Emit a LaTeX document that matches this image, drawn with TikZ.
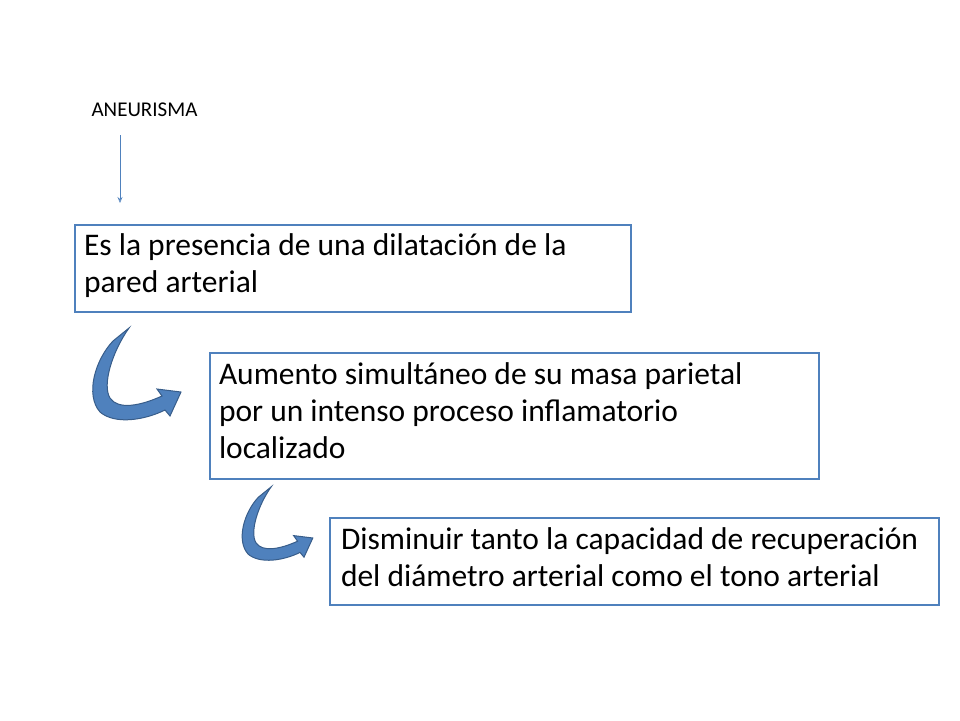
\documentclass[tikz,border=0pt]{standalone}
\usepackage{fontspec}
\setmainfont{Carlito}
\usetikzlibrary{arrows.meta}
\begin{document}
\begin{tikzpicture}[x=1pt,y=-1pt]
\definecolor{bl}{HTML}{4F81BD}
\definecolor{bld}{HTML}{385D8A}
\tikzset{
 txtbox/.style={draw=bl,line width=2pt,anchor=north west,align=left,inner sep=0pt,font=\fontsize{31.5}{37}\selectfont,text depth=0pt},
 curvy/.pic={\fill[bl,draw=bld,line width=1pt] (23,14) .. controls (5,33) and (-5,68) .. (10,85) .. controls (25,98) and (55,93) .. (75,83) -- (80,89) -- (91,65) -- (67,62) -- (72,69) .. controls (50,79) and (28,83) .. (20,71) .. controls (12,58) and (22,25) .. (39,1) -- cycle;}
}
\path[use as bounding box] (0,0) rectangle (960,720);
\node[font=\fontsize{21}{24}\selectfont,anchor=west] (t) at (88,110) {ANEURISMA};
\coordinate (a) at (120,135);
\coordinate (b) at (120,203);
\draw[bl,line width=0.7pt,-{Stealth[length=6pt,width=5pt,open]}] (a) -- (b);
\draw[txtbox] (75,225) rectangle (631,312);
\node[txtbox,draw=none] (n1) at (83,233) {Es la presencia de una dilatación de la\\pared arterial};
\draw[txtbox] (210,353) rectangle (819,479);
\node[txtbox,draw=none] (n2) at (218,362) { Aumento simultáneo de su masa parietal\\por un intenso proceso inflamatorio\\localizado};
\draw[txtbox] (330,518) rectangle (939,605);
\node[txtbox,draw=none] (n3) at (340,527) {Disminuir tanto la capacidad de recuperación\\del diámetro arterial como el tono arterial};
\pic at (90,327) {curvy};
\pic[scale=0.8] at (240,486) {curvy};
\end{tikzpicture}
\end{document}
